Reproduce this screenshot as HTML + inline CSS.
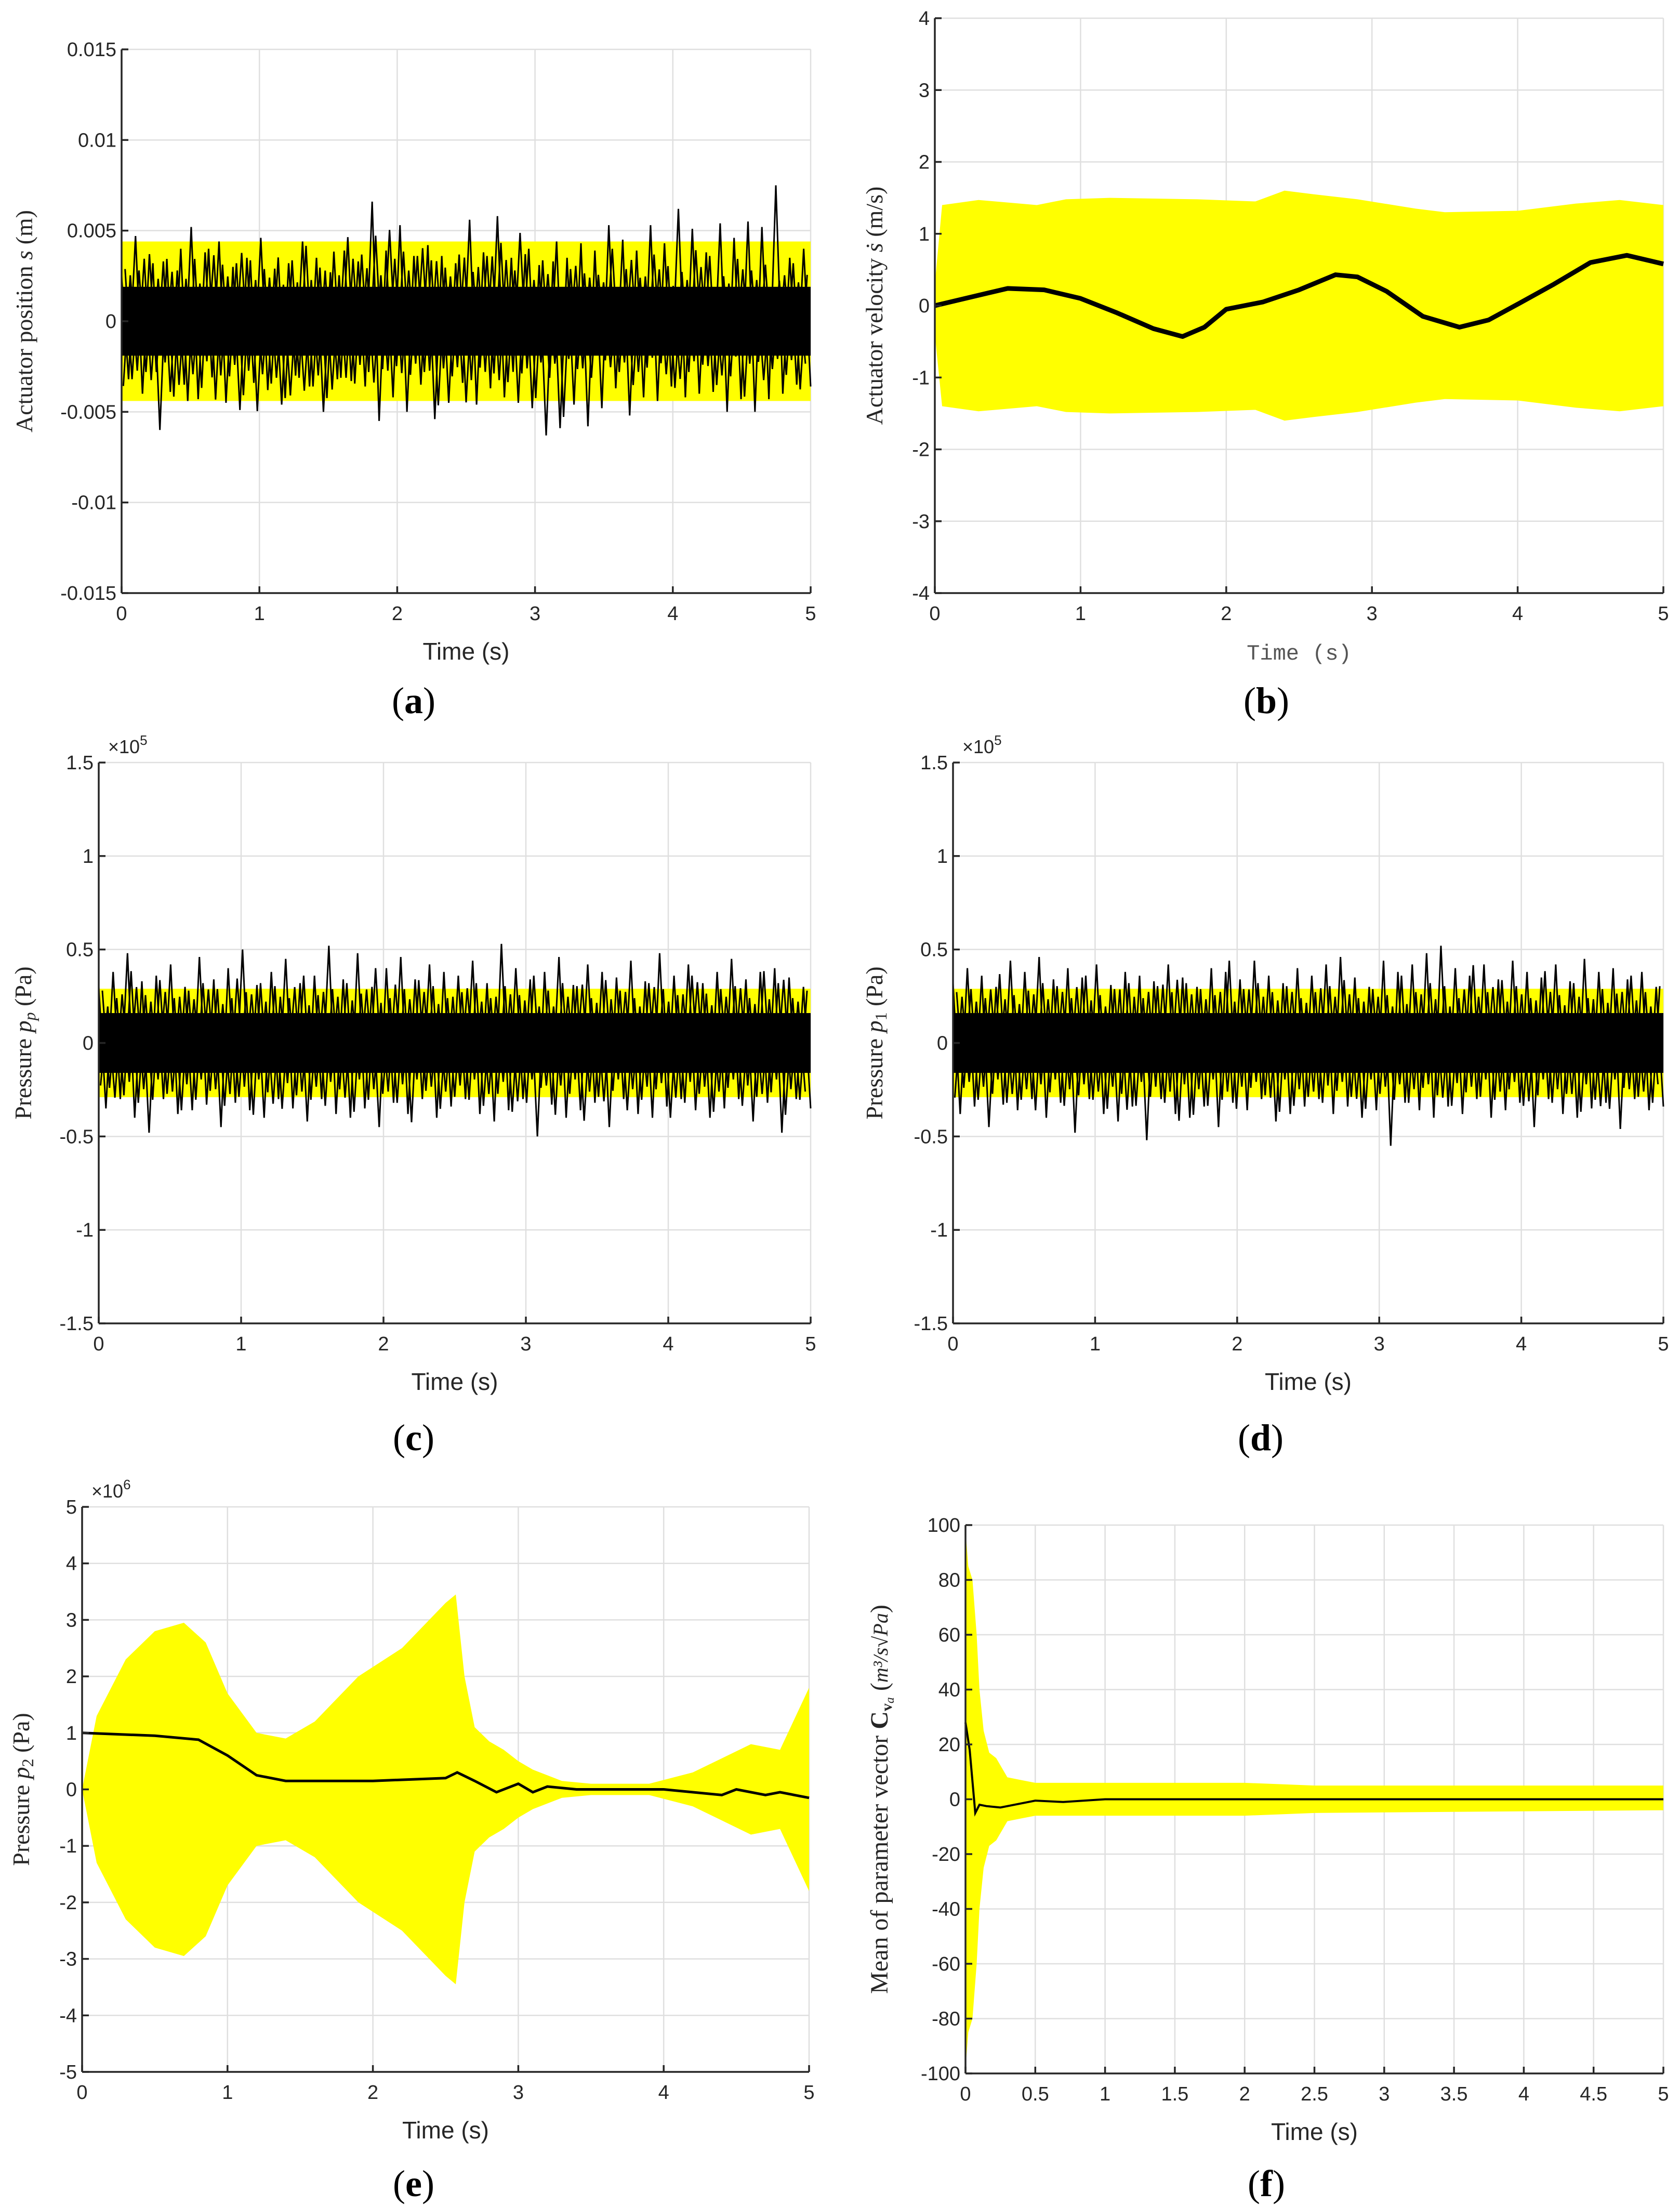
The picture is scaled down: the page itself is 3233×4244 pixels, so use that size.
<!DOCTYPE html>
<html><head><meta charset="utf-8"><title>Figure</title>
<style>
html,body{margin:0;padding:0;background:#fff;}
svg{display:block;}
</style></head>
<body>
<svg id="fig" xmlns="http://www.w3.org/2000/svg" width="3233" height="4244" viewBox="0 0 3233 4244">
<rect x="0" y="0" width="3233" height="4244" fill="#fff"/>
</svg>
<script>
// ---------- DATA ----------
// (a) actuator position noise peaks (x1e-3 m)
const aNoise=[2.5,-3.2,4.7,-4,3.7,-2.8,3.3,-3.9,2.8,-3.5,5.2,-4.3,3.8,-3.1,4.4,-4.5,3,-4.9,3.5,-3.4,4.6,-3.8,2.9,-4.6,3.2,-3,4.4,-3.6,3.5,-5,2.7,-3.2,3.9,-3.3,3.3,-3.6,6.6,-5.5,3.9,-4.2,5.3,-5,3.6,-3.5,4.2,-5.4,3.6,-4.5,3.2,-3.4,5.6,-4.6,3.8,-3.7,5.8,-4.2,3.5,-4.5,3.7,-4.8,3.1,-6.3,3.3,-5.9,3.5,-4.6,4.3,-5.8,3.9,-4.8,5.3,-3.7,4.5,-5.2,3.9,-4.2,5.3,-4.4,4.3,-3.6,6.2,-4.2,5.1,-4,3.8,-3.9,5.4,-5,4.6,-4.3,5.5,-5,5.2,-4.3,7.5,-4,3.5,-3.5,4,-3.6];
const aBand=4.4;   // x1e-3
const aCore=1.9;
// (b) actuator velocity
const bTimes=[0,0.25,0.5,0.75,1,1.25,1.5,1.7,1.85,2,2.25,2.5,2.75,2.9,3.1,3.35,3.6,3.8,4,4.25,4.5,4.75,5];
const bMean=[0,0.12,0.24,0.22,0.1,-0.1,-0.32,-0.43,-0.3,-0.05,0.05,0.22,0.43,0.4,0.2,-0.15,-0.3,-0.2,0.02,0.3,0.6,0.7,0.58];
const bEnvT=[0,0.05,0.3,0.7,0.9,1.2,1.8,2.2,2.4,2.6,2.9,3.3,3.5,4,4.4,4.7,5];
const bUpper=[0.3,1.4,1.47,1.4,1.48,1.5,1.48,1.45,1.6,1.55,1.48,1.35,1.3,1.32,1.42,1.47,1.4];
const bLower=[-0.4,-1.4,-1.47,-1.4,-1.48,-1.5,-1.48,-1.45,-1.6,-1.55,-1.48,-1.35,-1.3,-1.32,-1.42,-1.47,-1.4];
// (c) pressure pp noise (x1e5 Pa)
const cNoise=[0.3,-0.35,0.38,-0.3,0.48,-0.4,0.33,-0.48,0.36,-0.3,0.42,-0.38,0.3,-0.36,0.46,-0.33,0.34,-0.45,0.4,-0.32,0.5,-0.36,0.31,-0.4,0.38,-0.3,0.45,-0.35,0.32,-0.42,0.36,-0.3,0.52,-0.38,0.34,-0.4,0.48,-0.35,0.3,-0.45,0.4,-0.32,0.46,-0.38,0.34,-0.3,0.42,-0.4,0.38,-0.34,0.36,-0.3,0.44,-0.38,0.32,-0.42,0.53,-0.36,0.4,-0.3,0.34,-0.5,0.38,-0.33,0.46,-0.4,0.31,-0.36,0.42,-0.32,0.38,-0.45,0.35,-0.3,0.44,-0.38,0.33,-0.4,0.48,-0.34,0.36,-0.3,0.42,-0.36,0.32,-0.4,0.38,-0.35,0.45,-0.3,0.34,-0.42,0.38,-0.32,0.4,-0.48,0.35,-0.3,0.3,-0.35];
// (d) pressure p1 noise (x1e5 Pa)
const dNoise=[0.32,-0.38,0.4,-0.34,0.36,-0.45,0.3,-0.33,0.44,-0.36,0.38,-0.3,0.46,-0.4,0.34,-0.32,0.4,-0.48,0.35,-0.3,0.42,-0.38,0.31,-0.42,0.38,-0.34,0.36,-0.52,0.33,-0.3,0.42,-0.38,0.35,-0.4,0.3,-0.34,0.4,-0.45,0.38,-0.32,0.34,-0.36,0.44,-0.3,0.36,-0.42,0.32,-0.38,0.4,-0.34,0.36,-0.3,0.42,-0.38,0.46,-0.34,0.35,-0.4,0.3,-0.36,0.44,-0.55,0.38,-0.32,0.42,-0.36,0.48,-0.4,0.52,-0.34,0.4,-0.38,0.36,-0.3,0.42,-0.4,0.34,-0.36,0.44,-0.32,0.38,-0.45,0.35,-0.3,0.42,-0.38,0.33,-0.4,0.45,-0.35,0.38,-0.32,0.4,-0.46,0.34,-0.3,0.38,-0.36,0.3,-0.34];
const cdBand=0.29, cdCore=0.16;
// (e) pressure p2 (x1e6 Pa)
const eEnvT=[0,0.1,0.3,0.5,0.7,0.85,1,1.2,1.4,1.6,1.9,2.2,2.5,2.57,2.63,2.7,2.8,2.9,3,3.1,3.3,3.5,3.9,4.2,4.4,4.6,4.8,5];
const eUpper=[0,1.3,2.3,2.8,2.95,2.6,1.7,1.0,0.9,1.2,2.0,2.5,3.3,3.45,2.0,1.1,0.85,0.7,0.5,0.35,0.15,0.1,0.1,0.3,0.55,0.8,0.7,1.8];
const eLower=[0,-1.3,-2.3,-2.8,-2.95,-2.6,-1.7,-1.0,-0.9,-1.2,-2.0,-2.5,-3.3,-3.45,-2.0,-1.1,-0.85,-0.7,-0.5,-0.35,-0.15,-0.1,-0.1,-0.3,-0.55,-0.8,-0.7,-1.8];
const eMeanT=[0,0.5,0.8,1.0,1.2,1.4,2.0,2.5,2.58,2.7,2.85,3.0,3.1,3.2,3.4,4.0,4.4,4.5,4.7,4.8,5];
const eMean=[1.0,0.95,0.88,0.6,0.25,0.15,0.15,0.2,0.3,0.15,-0.05,0.1,-0.05,0.05,0,0,-0.1,0,-0.1,-0.05,-0.15];
// (f) parameter vector mean
const fEnvT=[0,0.02,0.05,0.08,0.1,0.13,0.17,0.22,0.3,0.4,0.5,2,2.5,5];
const fUpper=[98,85,80,60,40,25,17,15,8,7,6,6,5,5];
const fLower=[-98,-85,-80,-60,-40,-25,-17,-15,-8,-7,-6,-6,-5,-4];
const fMeanT=[0,0.03,0.07,0.1,0.15,0.25,0.35,0.5,0.7,1,5];
const fMean=[28,18,-5,-2,-2.5,-3,-2,-0.5,-1,0,0];
// ticks
const xTicks5=[0,1,2,3,4,5];
const xTicksF=[0,0.5,1,1.5,2,2.5,3,3.5,4,4.5,5];
const yTicksA=[-0.015,-0.01,-0.005,0,0.005,0.01,0.015];
const yTicksALabels=["-0.015","-0.01","-0.005","0","0.005","0.01","0.015"];
const yTicksB=[-4,-3,-2,-1,0,1,2,3,4];
const yTicksC=[-1.5,-1,-0.5,0,0.5,1,1.5];
const yTicksE=[-5,-4,-3,-2,-1,0,1,2,3,4,5];
const yTicksF=[-100,-80,-60,-40,-20,0,20,40,60,80,100];

// ---------- DRAWING ----------
const NS="http://www.w3.org/2000/svg";
const svg=document.getElementById('fig');
function mk(tag,attrs,parent){const e=document.createElementNS(NS,tag);for(const k in attrs)e.setAttribute(k,attrs[k]);(parent||svg).appendChild(e);return e;}

function panel(p){
  const g=mk('g',{});
  
  
  const sx=v=>p.L+(v-p.x0)/(p.x1-p.x0)*(p.R-p.L);
  const sy=v=>p.B-(v-p.y0)/(p.y1-p.y0)*(p.B-p.T);
  const grid=mk('g',{stroke:'#dfdfdf','stroke-width':2.5},g);
  
  
  p.xt.forEach(v=>mk('line',{x1:sx(v),x2:sx(v),y1:p.T,y2:p.B},grid));
  p.yt.forEach(v=>mk('line',{x1:p.L,x2:p.R,y1:sy(v),y2:sy(v)},grid));
  const sg=mk('g',{},g);
  
  
  p.draw(sg,sx,sy);
  const ax=mk('g',{stroke:'#262626','stroke-width':3.5,fill:'none'},g);
  
  
  mk('line',{x1:p.L,x2:p.L,y1:p.T,y2:p.B},ax);
  mk('line',{x1:p.L,x2:p.R,y1:p.B,y2:p.B},ax);
  p.xt.forEach(v=>mk('line',{x1:sx(v),x2:sx(v),y1:p.B,y2:p.B-13},ax));
  p.yt.forEach(v=>mk('line',{x1:p.L,x2:p.L+13,y1:sy(v),y2:sy(v)},ax));
  const tl=mk('g',{fill:'#262626','font-family':'Liberation Sans, sans-serif','font-size':38},g);
  
  
  p.xt.forEach(v=>{const t=mk('text',{x:sx(v),y:p.B+52,'text-anchor':'middle'},tl);t.textContent=String(v);});
  p.yt.forEach((v,i)=>{const t=mk('text',{x:p.L-10,y:sy(v)+13,'text-anchor':'end'},tl);t.textContent=p.ytl?p.ytl[i]:String(v);});
  if(p.exp){const t=mk('text',{x:p.L+18,y:p.T-18,'font-family':'Liberation Sans, sans-serif','font-size':36,fill:'#262626'},g);
    
    t.innerHTML='×10<tspan dy="-16" font-size="26">'+p.exp+'</tspan>';}
  const xl=mk('text',{x:(p.L+p.R)/2,y:p.B+128,'text-anchor':'middle','font-family':p.xlMono?'Liberation Mono, monospace':'Liberation Sans, sans-serif','font-size':p.xlMono?42:46,fill:p.xlMono?'#555':'#262626'},g);
  
  xl.textContent='Time (s)';
  const cy=(p.T+p.B)/2;
  const yl=mk('text',{x:p.ylx,y:cy,'text-anchor':'middle','font-family':'Liberation Serif, serif','font-size':p.ylSize||46,fill:'#262626',transform:'rotate(-90 '+p.ylx+' '+cy+')'},g);
  
  yl.innerHTML=p.yl;
  const lt=mk('text',{x:p.lx,y:p.ly,'text-anchor':'middle','font-family':'Liberation Serif, serif','font-size':72,fill:'#000'},g);
  
  lt.innerHTML='(<tspan font-weight="bold">'+p.letter+'</tspan>)';
}
function bandPath(ts,up,lo,sx,sy){
  let d='M'+ts.map((t,i)=>sx(t)+','+sy(up[i])).join(' L');
  for(let i=ts.length-1;i>=0;i--)d+=' L'+sx(ts[i])+','+sy(lo[i]);
  return d+'Z';
}
function linePath(ts,vs,sx,sy){return 'M'+ts.map((t,i)=>sx(t)+','+sy(vs[i])).join(' L');}
function noiseDraw(noise,band,core,scale){
  return (g,sx,sy)=>{
    const b=mk('rect',{x:sx(0),y:sy(band*scale),width:sx(5)-sx(0),height:sy(-band*scale)-sy(band*scale),fill:'#ffff00'},g);
    
    const c=mk('rect',{x:sx(0),y:sy(core*scale),width:sx(5)-sx(0),height:sy(-core*scale)-sy(core*scale),fill:'#000'},g);
    
    const n=noise.length;
    const ts=noise.map((v,i)=>5*i/(n-1));
    const l=mk('path',{d:linePath(ts,noise.map(v=>v*scale),sx,sy),fill:'none',stroke:'#000','stroke-width':3},g);
    
    const ts2=noise.map((v,i)=>5*(i+0.5)/(n-1)).slice(0,n-1);
    const v2=noise.slice(0,n-1).map((v,i)=>-noise[n-1-i]*0.8*scale);
    const l2=mk('path',{d:linePath(ts2,v2,sx,sy),fill:'none',stroke:'#000','stroke-width':3},g);
    
    const ts3=noise.map((v,i)=>5*(i+0.25)/(n-1)).slice(0,n-1);
    const v3=noise.slice(0,n-1).map((v,i)=>noise[(i+37)%n]*0.65*scale);
    const l3=mk('path',{d:linePath(ts3,v3,sx,sy),fill:'none',stroke:'#000','stroke-width':3},g);
    
  };
}

panel({name:'panel-a',L:234,R:1560,T:95,B:1141,x0:0,x1:5,y0:-0.015,y1:0.015,xt:xTicks5,yt:yTicksA,ytl:yTicksALabels,
  ylx:62,yl:'Actuator position <tspan font-style="italic">s</tspan> (m)',lx:796,ly:1372,letter:'a',
  draw:noiseDraw(aNoise,aBand,aCore,0.001)});
panel({name:'panel-b',L:1799,R:3201,T:35,B:1141,x0:0,x1:5,y0:-4,y1:4,xt:xTicks5,yt:yTicksB,xlMono:true,
  ylx:1698,yl:'Actuator velocity <tspan font-style="italic">ṡ</tspan> (m/s)',lx:2437,ly:1372,letter:'b',
  draw:(g,sx,sy)=>{
    const b=mk('path',{d:bandPath(bEnvT,bUpper,bLower,sx,sy),fill:'#ffff00'},g);
    
    const l=mk('path',{d:linePath(bTimes,bMean,sx,sy),fill:'none',stroke:'#000','stroke-width':9,'stroke-linejoin':'round'},g);
    
  }});
panel({name:'panel-c',L:190,R:1560,T:1467,B:2546,x0:0,x1:5,y0:-1.5,y1:1.5,xt:xTicks5,yt:yTicksC,exp:'5',
  ylx:60,yl:'Pressure <tspan font-style="italic">p<tspan font-size="32" dy="8">p</tspan></tspan><tspan dy="-8"> (Pa)</tspan>',lx:796,ly:2790,letter:'c',
  draw:noiseDraw(cNoise,cdBand,cdCore,1)});
panel({name:'panel-d',L:1834,R:3201,T:1467,B:2546,x0:0,x1:5,y0:-1.5,y1:1.5,xt:xTicks5,yt:yTicksC,exp:'5',
  ylx:1698,yl:'Pressure <tspan font-style="italic">p</tspan><tspan font-size="32" dy="8">1</tspan><tspan dy="-8"> (Pa)</tspan>',lx:2426,ly:2790,letter:'d',
  draw:noiseDraw(dNoise,cdBand,cdCore,1)});
panel({name:'panel-e',L:158,R:1557,T:2899,B:3986,x0:0,x1:5,y0:-5,y1:5,xt:xTicks5,yt:yTicksE,exp:'6',
  ylx:56,yl:'Pressure <tspan font-style="italic">p</tspan><tspan font-size="32" dy="8">2</tspan><tspan dy="-8"> (Pa)</tspan>',lx:796,ly:4225,letter:'e',
  draw:(g,sx,sy)=>{
    const b=mk('path',{d:bandPath(eEnvT,eUpper,eLower,sx,sy),fill:'#ffff00'},g);
    
    const l=mk('path',{d:linePath(eMeanT,eMean,sx,sy),fill:'none',stroke:'#000','stroke-width':5},g);
    
  }});
panel({name:'panel-f',L:1858,R:3201,T:2934,B:3989,x0:0,x1:5,y0:-100,y1:100,xt:xTicksF,yt:yTicksF,ylSize:48,
  ylx:1708,yl:'Mean of parameter vector <tspan font-weight="bold">C</tspan><tspan font-size="30" dy="8" font-weight="bold">v</tspan><tspan font-size="24" dy="4" font-style="italic">a</tspan><tspan dy="-12"> (</tspan><tspan font-style="italic" font-size="40">m³/s√Pa</tspan>)',lx:2437,ly:4225,letter:'f',
  draw:(g,sx,sy)=>{
    const b=mk('path',{d:bandPath(fEnvT,fUpper,fLower,sx,sy),fill:'#ffff00'},g);
    
    const l=mk('path',{d:linePath(fMeanT,fMean,sx,sy),fill:'none',stroke:'#000','stroke-width':4},g);
    
  }});
</script>
</body></html>
